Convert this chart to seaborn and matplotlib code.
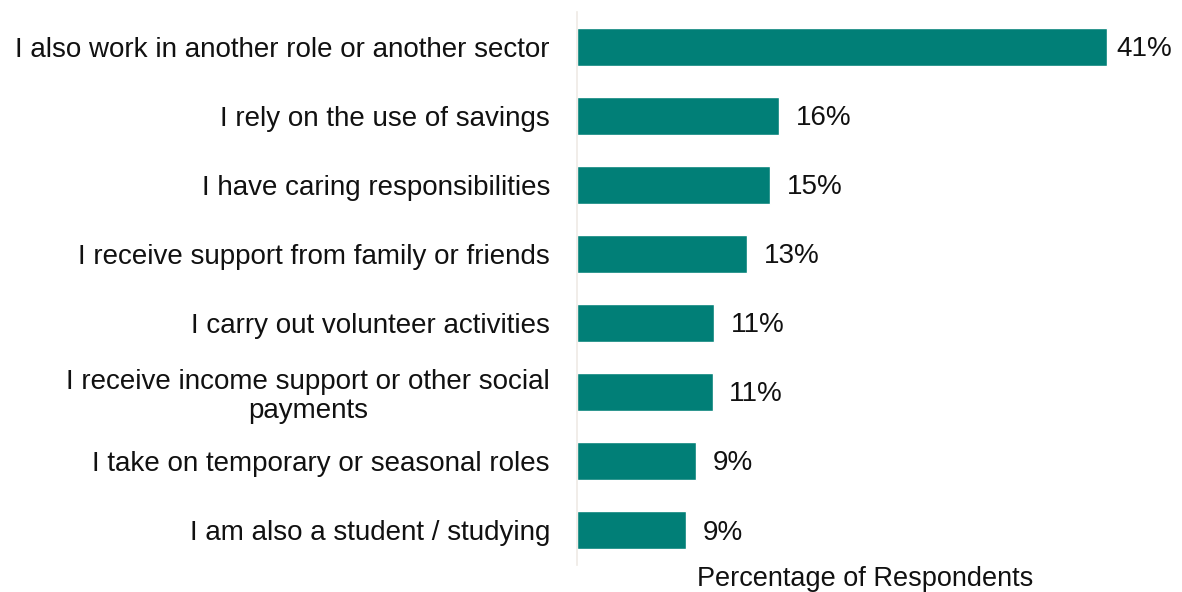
import matplotlib
matplotlib.use("Agg")
import matplotlib.pyplot as plt
import seaborn as sns
import pandas as pd

categories = [
    "I also work in another role or another sector",
    "I rely on the use of savings",
    "I have caring responsibilities",
    "I receive support from family or friends",
    "I carry out volunteer activities",
    "I receive income support or other social\npayments",
    "I take on temporary or seasonal roles",
    "I am also a student / studying",
]
values = [41.4, 15.8, 15.1, 13.3, 10.7, 10.6, 9.3, 8.55]

df = pd.DataFrame({"category": categories, "value": values})

sns.set_theme(style="white")
plt.rcParams["font.family"] = ["Liberation Sans", "DejaVu Sans"]

fig = plt.figure(figsize=(11.82, 5.92), dpi=100)
ax = fig.add_axes([577 / 1182, 1 - 565 / 592, (1153 - 577) / 1182, (565 - 12) / 592])

sns.barplot(data=df, y="category", x="value", orient="h", color="#017F77",
            saturation=1, width=0.55, ax=ax)

ax.set_xlim(0, 45)
ax.set_xticks([])
ax.set_ylabel("")
ax.set_xlabel("Percentage of Respondents", fontsize=19.5, color="#111111", labelpad=0.5)
ax.tick_params(axis="y", length=0, pad=19.5, labelsize=20, labelcolor="#111111")
for lbl in ax.get_yticklabels():
    lbl.set_multialignment("center")
    lbl.set_linespacing(1.12)

for side in ["top", "right", "bottom"]:
    ax.spines[side].set_visible(False)
ax.spines["left"].set_color("#EFEAE5")
ax.spines["left"].set_linewidth(1.2)

texts = ax.bar_label(ax.containers[0], labels=[f"{v:.0f}%" for v in values],
                     padding=12, fontsize=20, color="#111111", clip_on=False)
for t in texts:
    x_off, y_off = t.xyann
    t.xyann = (x_off, y_off - 1.5)
# the longest bar's label sits closer to its bar, near the figure edge
texts[0].xyann = (6.5, texts[0].xyann[1])

fig.savefig("out.png", dpi=100)
